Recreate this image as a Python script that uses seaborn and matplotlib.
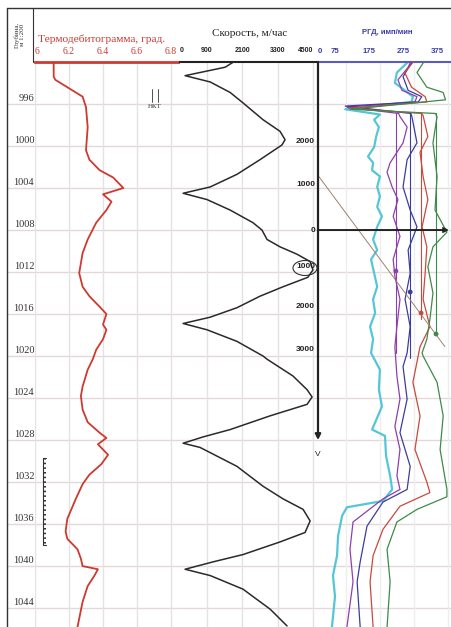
import numpy as np
import pandas as pd
import matplotlib
matplotlib.use('Agg')
import matplotlib.pyplot as plt
import seaborn as sns
from matplotlib.patches import Ellipse
from matplotlib.lines import Line2D

sns.set_style('white')
plt.rcParams['font.family'] = ['Liberation Serif', 'DejaVu Serif']

# ---------------- data ----------------
depth_labels = [996, 1000, 1004, 1008, 1012, 1016, 1020, 1024, 1028, 1032, 1036, 1040, 1044]

thermo_depth = [991.8, 993.4, 993.7, 994.4, 995.3, 996.3, 998.2, 1000.4, 1001.3, 1002.3, 1003.0, 1004.0,
                1004.6, 1005.3, 1006.1, 1007.3, 1008.9, 1010.2, 1012.1, 1013.4, 1014.3, 1015.3, 1016.0,
                1017.0, 1017.5, 1018.4, 1019.4, 1020.3, 1021.3, 1022.9, 1023.8, 1025.1, 1026.3, 1027.3,
                1027.8, 1028.4, 1029.4, 1030.3, 1031.3, 1032.2, 1033.6, 1035.5, 1036.7, 1037.4, 1038.4,
                1039.3, 1040.0, 1040.3, 1040.9, 1041.9, 1043.4, 1045.8]
thermo_val = [6.11, 6.11, 6.12, 6.19, 6.28, 6.30, 6.31, 6.30, 6.32, 6.38, 6.46, 6.52,
              6.40, 6.45, 6.42, 6.36, 6.31, 6.28, 6.26, 6.28, 6.32, 6.38, 6.42,
              6.40, 6.42, 6.40, 6.36, 6.34, 6.31, 6.28, 6.27, 6.28, 6.31, 6.38,
              6.42, 6.37, 6.43, 6.39, 6.32, 6.28, 6.24, 6.19, 6.18, 6.19, 6.25,
              6.27, 6.28, 6.37, 6.35, 6.31, 6.28, 6.25]

speed_depth = [991.8, 992.5, 993.3, 993.9, 994.9, 995.9, 997.5, 998.6, 999.4, 999.9, 1001.3, 1002.7,
               1003.9, 1004.5, 1005.1, 1006.1, 1007.3, 1008.0, 1008.9, 1009.6, 1010.3, 1011.0, 1011.8,
               1012.5, 1013.4, 1014.3, 1015.4, 1016.3, 1016.9, 1017.5, 1018.6, 1020.0, 1020.3, 1021.9,
               1023.2, 1023.9, 1024.6, 1025.7, 1027.0, 1027.7, 1028.3, 1028.7, 1030.5, 1032.4, 1033.6,
               1034.6, 1035.7, 1036.8, 1037.7, 1038.9, 1039.6, 1040.3, 1040.9, 1042.2, 1042.9, 1044.1, 1045.7]
speed_val = [1923, 1523, 171, 1019, 1695, 2132, 2808, 3380, 3551, 3446, 2704, 1923,
             1019, 105, 914, 1695, 2466, 2770, 2942, 3380, 3951, 4398, 4493,
             4322, 3484, 2704, 1923, 1019, 105, 914, 1923, 2808, 2942, 3818,
             4294, 4465, 4294, 3037, 1695, 781, 105, 676, 1923, 2808, 3484,
             4160, 4398, 4227, 3380, 2132, 1114, 171, 1019, 2132, 2466, 3046, 3618]

cyan_depth = [991.8, 993.0, 994.0, 994.5, 995.3, 995.8, 996.5, 997.0, 997.5, 998.2, 999.1, 1000.1,
              1001.0, 1001.6, 1002.3, 1002.9, 1003.9, 1004.8, 1005.8, 1006.7, 1007.7, 1008.9, 1009.9,
              1010.8, 1012.1, 1013.4, 1014.6, 1015.9, 1017.2, 1018.4, 1019.7, 1021.3, 1023.2, 1024.8,
              1027.0, 1027.6, 1029.5, 1031.4, 1032.7, 1033.8, 1034.4, 1035.2, 1037.1, 1039.0, 1040.9,
              1042.9, 1045.8]
cyan_val = [296, 257, 251, 272, 304, 300, 105, 207, 190, 204, 196, 190,
            172, 187, 184, 207, 199, 207, 199, 213, 199, 187, 199,
            181, 190, 199, 187, 193, 178, 187, 181, 207, 204, 213,
            184, 222, 225, 237, 243, 216, 110, 96, 84, 81, 69,
            75, 66]

purple_depth = [991.8, 992.5, 993.7, 994.7, 995.3, 995.8, 996.3, 996.9, 997.2, 998.2, 999.7, 1001.6,
                1002.5, 1003.9, 1005.1, 1006.7, 1008.6, 1010.8, 1012.4, 1014.6, 1017.2, 1019.1, 1021.9,
                1024.1, 1026.7, 1028.9, 1031.4, 1032.7, 1033.6, 1035.8, 1038.4, 1041.5, 1045.8]
purple_val = [300, 290, 260, 272, 316, 310, 110, 262, 266, 287, 275, 237,
              228, 243, 260, 246, 266, 246, 251, 266, 257, 251, 257,
              266, 251, 266, 257, 266, 216, 128, 119, 128, 110]

navy_depth = [991.8, 993.4, 994.7, 995.3, 995.8, 996.2, 996.9, 997.2, 999.7, 1001.3, 1003.9, 1006.1,
              1007.7, 1009.9, 1012.1, 1014.6, 1017.2, 1019.7, 1021.0, 1024.1, 1027.3, 1030.5, 1032.7,
              1033.9, 1036.2, 1039.6, 1041.5, 1045.8]
navy_val = [305, 275, 290, 330, 320, 105, 298, 301, 316, 287, 275, 296,
            316, 290, 296, 281, 296, 287, 275, 287, 266, 296, 287,
            216, 169, 149, 140, 149]

red_depth = [991.8, 993.0, 994.4, 995.3, 995.8, 996.4, 996.9, 997.1, 999.1, 1000.6, 1002.9, 1005.1,
             1007.7, 1009.6, 1012.1, 1014.6, 1017.2, 1019.1, 1022.5, 1025.7, 1028.9, 1032.0, 1033.0,
             1034.3, 1036.5, 1039.0, 1041.5, 1045.8]
red_val = [310, 280, 300, 340, 345, 115, 330, 334, 348, 325, 334, 348,
           331, 345, 340, 334, 354, 325, 304, 325, 310, 345, 354,
           266, 216, 187, 178, 187]

green_depth = [991.8, 993.0, 994.4, 994.9, 995.6, 996.5, 996.9, 997.2, 999.7, 1002.9, 1006.1, 1008.2,
               1009.6, 1011.5, 1014.0, 1016.5, 1018.4, 1019.7, 1020.0, 1022.5, 1025.7, 1028.9, 1032.7,
               1033.4, 1034.6, 1035.8, 1038.4, 1041.5, 1045.8]
green_val = [340, 316, 345, 393, 400, 120, 370, 375, 363, 375, 369, 404,
             363, 348, 363, 354, 345, 331, 334, 375, 393, 384, 404,
             404, 316, 257, 228, 237, 228]

# marker lines on the RGD track: value, top depth, bottom depth, dot depth
marker_vals = [254, 296, 328, 372]
marker_top = [996.9, 996.9, 996.9, 996.9]
marker_bottom = [1019.7, 1020.2, 1016.5, 1017.9]
marker_dot = [1011.9, 1013.9, 1015.9, 1017.9]
marker_colors = ['#8e3fae', '#3b3d9e', '#c8493e', '#3e8a48']

diag_vals = [25, 398]
diag_depths = [1002.8, 1019.1]

overlay_labels = ['2000', '1000', '0', '1000', '2000', '3000']
overlay_depths = [999.6, 1003.7, 1008.0, 1011.5, 1015.3, 1019.4]
axis_arrow_end = 1028.0
axis_zero_depth = 1008.0

perf_top, perf_bottom = 1029.7, 1038.0

thermo_ticks = [6.0, 6.2, 6.4, 6.6, 6.8]
thermo_ticklabels = ['6', '6.2', '6.4', '6.6', '6.8']
speed_ticks = [0, 900, 2100, 3300, 4500]
rgd_ticks = [25, 75, 175, 275, 375]
rgd_ticklabels = ['0', '75', '175', '275', '375']
rgd_grid = [107, 207, 307, 407]

# ---------------- layout ----------------
W, H = 451, 627
fig = plt.figure(figsize=(W / 100, H / 100), dpi=100)
fig.patch.set_facecolor('white')


def fx(x):
    return x / W


def fy(y):
    return 1 - y / H


TOP = 62
ah = (H - TOP) / H
ax_d = fig.add_axes([fx(7), 0, 28 / W, ah])
ax_t = fig.add_axes([fx(35), 0, 145 / W, ah], sharey=ax_d)
ax_s = fig.add_axes([fx(180), 0, 138 / W, ah], sharey=ax_d)
ax_r = fig.add_axes([fx(318), 0, 133 / W, ah], sharey=ax_d)
ax_d.set_ylim(1045.8, 992.0)

ax_t.set_xlim(6.0, 6.853)
ax_s.set_xlim(0, 4664)
ax_r.set_xlim(25, 416)
ax_d.set_xlim(0, 1)

HGRID = '#e4d7d7'
VGRID = '#e3e3e3'
for ax in (ax_d, ax_t, ax_s, ax_r):
    ax.set_facecolor('white')
    for s in ax.spines.values():
        s.set_visible(False)
    ax.tick_params(left=False, labelleft=False, bottom=False, labelbottom=False)
    for d in depth_labels:
        ax.axhline(d, color=HGRID, lw=1.0, zorder=0)

for v in thermo_ticks:
    ax_t.axvline(v, color=VGRID, lw=1.0, zorder=0)
for v in speed_ticks[1:]:
    ax_s.axvline(v, color=VGRID, lw=1.0, zorder=0)
for v in rgd_grid:
    ax_r.axvline(v, color='#eeeeee', lw=1.0, zorder=0)

# header lines (top spines)
ax_t.spines['top'].set_visible(True)
ax_t.spines['top'].set_color('#cc3a30')
ax_t.spines['top'].set_linewidth(2.0)
ax_s.spines['top'].set_visible(True)
ax_s.spines['top'].set_color('#222222')
ax_s.spines['top'].set_linewidth(1.5)
ax_r.spines['top'].set_visible(True)
ax_r.spines['top'].set_color('#5a5ac0')
ax_r.spines['top'].set_linewidth(1.5)

# tick labels on top
ax_d.set_xticks([])
ax_t.xaxis.tick_top()
ax_t.set_xticks(thermo_ticks, thermo_ticklabels)
ax_t.tick_params(axis='x', top=True, labeltop=True, length=0, pad=4, labelsize=7, labelcolor='#cc3a30')
ax_t.get_xticklabels()[0].set_horizontalalignment('left')

ax_s.xaxis.tick_top()
ax_s.set_xticks(speed_ticks, [str(v) for v in speed_ticks])
ax_s.tick_params(axis='x', top=True, labeltop=True, length=0, pad=5.5, labelsize=5.0, labelcolor='#222222')
ax_s.get_xticklabels()[0].set_horizontalalignment('left')
ax_s.get_xticklabels()[-1].set_horizontalalignment('right')

ax_r.xaxis.tick_top()
ax_r.set_xticks(rgd_ticks, rgd_ticklabels)
ax_r.tick_params(axis='x', top=True, labeltop=True, length=0, pad=5, labelsize=5.6, labelcolor='#3a3aa8')
ax_r.get_xticklabels()[0].set_horizontalalignment('left')
for ax in (ax_s, ax_r):
    for lbl in ax.get_xticklabels():
        lbl.set_fontfamily(['Liberation Sans', 'DejaVu Sans'])
        lbl.set_fontweight('bold')
ax_t.set_xlabel('')
ax_s.set_xlabel('')
ax_r.set_xlabel('')

# ---------------- curves ----------------
sns.lineplot(x=thermo_val, y=thermo_depth, orient='y', estimator=None, ax=ax_t,
             color='#cc3a30', lw=1.3, zorder=3)
sns.lineplot(x=speed_val, y=speed_depth, orient='y', estimator=None, ax=ax_s,
             color='#2a2a2a', lw=1.1, zorder=3)

sns.lineplot(x=cyan_val, y=cyan_depth, orient='y', estimator=None, ax=ax_r,
             color='#55c6d8', lw=1.6, zorder=2)
for vals, deps, col in [(purple_val, purple_depth, '#8e3fae'),
                        (navy_val, navy_depth, '#3b3d9e'),
                        (red_val, red_depth, '#c8493e'),
                        (green_val, green_depth, '#3e8a48')]:
    sns.lineplot(x=vals, y=deps, orient='y', estimator=None, ax=ax_r, color=col, lw=0.9, zorder=3)

for v, t, b, dd, c in zip(marker_vals, marker_top, marker_bottom, marker_dot, marker_colors):
    ax_r.plot([v, v], [t, b], color=c, lw=0.8, zorder=3)
    sns.scatterplot(x=[v], y=[dd], ax=ax_r, color=c, s=12, edgecolor='none', zorder=5)

ax_r.plot(diag_vals, diag_depths, color='#a08270', lw=0.7, zorder=4)

# axis overlay in speed track
ax_r.annotate('', xy=(25, axis_arrow_end), xytext=(25, 992.0), annotation_clip=False,
              arrowprops=dict(arrowstyle='-|>', color='#222222', lw=1.6, mutation_scale=8,
                              shrinkA=0, shrinkB=0), zorder=6)
ax_r.annotate('', xy=(410, axis_zero_depth), xytext=(25, axis_zero_depth), annotation_clip=False,
              arrowprops=dict(arrowstyle='->', color='#222222', lw=1.4, mutation_scale=7,
                              shrinkA=0, shrinkB=0), zorder=6)
for lab, d in zip(overlay_labels, overlay_depths):
    ax_s.text(4560, d, lab, ha='right', va='center', fontsize=6, fontweight='bold',
              family=['Liberation Sans', 'DejaVu Sans'], color='#222222', zorder=6)
ax_r.text(25, axis_arrow_end + 1.4, 'V', ha='center', va='center', fontsize=6,
          family=['Liberation Sans', 'DejaVu Sans'], color='#222222', clip_on=False)
fig.add_artist(Ellipse((fx(305), fy(268)), 24 / W, 15 / H, transform=fig.transFigure,
                       fill=False, color='#333333', lw=0.8))

# НКТ marker
ax_t.plot([6.688, 6.688], [994.6, 995.8], color='#333333', lw=0.6)
ax_t.plot([6.724, 6.724], [994.6, 995.8], color='#333333', lw=0.6)
ax_t.text(6.706, 996.2, 'НКТ', ha='center', va='center', fontsize=5, color='#333333')

# perforation marker
ax_t.plot([6.045, 6.045], [perf_top, perf_bottom], color='#333333', lw=0.8)
ax_t.plot([6.057, 6.057], [perf_top, perf_bottom], color='#333333', lw=1.4, ls=(0, (0.8, 1.6)))
ax_t.plot([6.045, 6.062], [perf_top, perf_top], color='#333333', lw=0.8)
ax_t.plot([6.045, 6.062], [perf_bottom, perf_bottom], color='#333333', lw=0.8)

# depth labels
for d in depth_labels:
    ax_d.text(0.97, d - 0.1, str(d), transform=ax_d.get_yaxis_transform(), ha='right', va='bottom',
              fontsize=7.5, color='#333333')

# ---------------- header ----------------
fig.add_artist(Line2D([fx(7), fx(451)], [fy(8), fy(8)], transform=fig.transFigure, color='#333333', lw=1.0))
fig.add_artist(Line2D([fx(7), fx(7)], [fy(8), fy(627)], transform=fig.transFigure, color='#333333', lw=1.0))
fig.add_artist(Line2D([fx(33), fx(33)], [fy(8), fy(62)], transform=fig.transFigure, color='#333333', lw=0.8))

fig.text(fx(20), fy(35), 'Глубина,\nм 1:200', rotation=90, ha='center', va='center', fontsize=5,
         color='#333333', linespacing=1.0)
fig.text(fx(102), fy(39), 'Термодебитограмма, град.', ha='center', va='center', fontsize=8.2,
         color='#cc3a30')
fig.text(fx(250), fy(33), 'Скорость, м/час', ha='center', va='center', fontsize=8, color='#222222')
fig.text(fx(387), fy(33), 'РГД, имп/мин', ha='center', va='center', fontsize=5.5, fontweight='bold',
         family=['Liberation Sans', 'DejaVu Sans'], color='#3a3aa8')

fig.savefig('out.png', dpi=100, facecolor='white')
